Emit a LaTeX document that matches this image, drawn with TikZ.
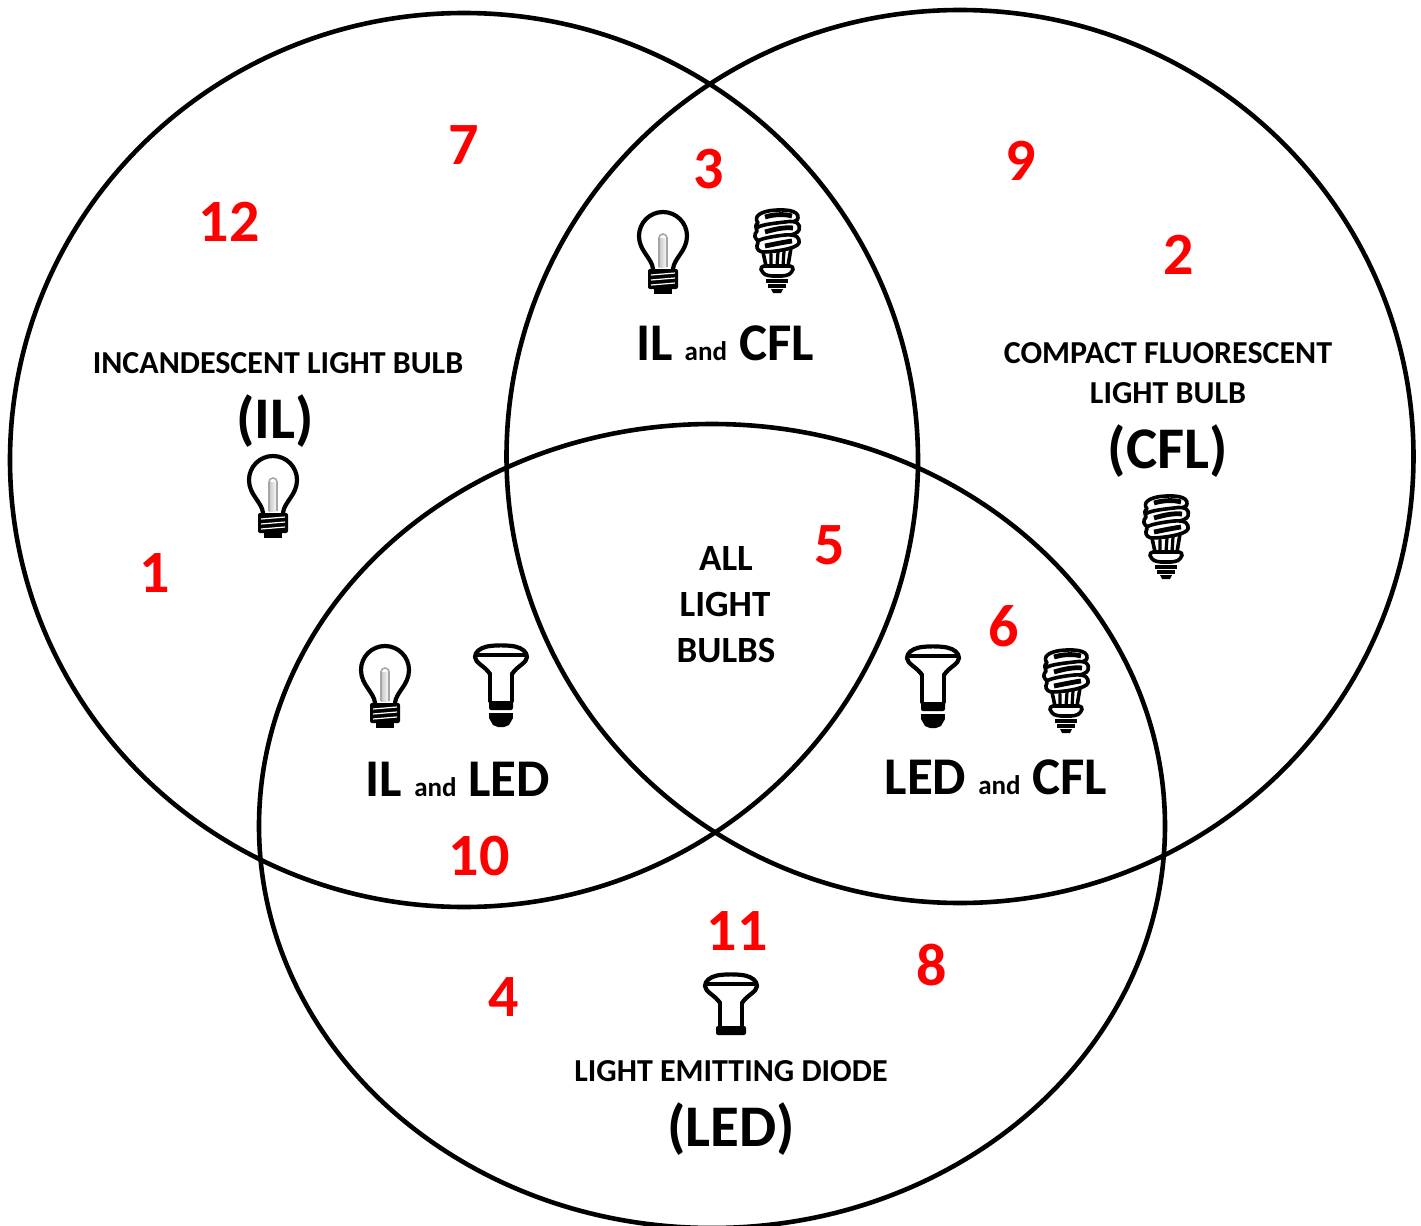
\documentclass[tikz,border=0pt]{standalone}
\usepackage{fontspec}
\setmainfont{Carlito}[BoldFont={Carlito Bold}]
\definecolor{numred}{RGB}{255,0,0}
\tikzset{
  ring/.style={draw=black,line width=2.3pt},
  num/.style={anchor=base,inner sep=0pt,text=numred,font=\bfseries\fontsize{30}{30}\selectfont},
  small/.style={anchor=base,inner sep=0pt,font=\bfseries\fontsize{16}{16}\selectfont},
  mid/.style={anchor=base,inner sep=0pt,font=\bfseries\fontsize{18.5}{18.5}\selectfont},
  big/.style={anchor=base,inner sep=0pt,font=\bfseries\fontsize{29.5}{29.5}\selectfont},
  pair/.style={anchor=base,inner sep=0pt,font=\bfseries\fontsize{26.5}{26.5}\selectfont},
  ink/.style={draw=black,line width=1.5pt,line join=round,line cap=round},
  incbulb/.pic={
    \draw[ink,line width=2.1pt] (-10,33) .. controls (-11,22) and (-24,15) .. (-24,0)
       arc[start angle=180,delta angle=180,radius=24]
       .. controls (24,15) and (11,22) .. (10,33);
    \shade[left color=gray!45,right color=white] (-4,2) rectangle (4,31);
    \draw[draw=gray!70,line width=0.8pt] (-4,31) -- (-4,2) arc[start angle=180,delta angle=180,radius=4] -- (4,31);
    \fill[black,rounded corners=1pt] (-15,33) rectangle (15,53);
    \fill[black] (-9,53) rectangle (9,57.5);
    \foreach \yy in {38,43,48}{\draw[white,line width=0.6pt] (-12,\yy+1) -- (12,\yy-1);}
  },
  cflbulb/.pic={
    \draw[ink,line width=1.8pt,fill=white] (-19,13) .. controls (-24,6) and (-16,2) .. (-6,0.5) .. controls (8,-1) and (22,0) .. (21,8) .. controls (21,12) and (10,14) .. (-19,19) .. controls (-22,18) and (-22,15) .. (-19,13) -- cycle;
    \draw[ink,line width=1.8pt,fill=white] (-20,21) .. controls (-24,16) and (-10,14) .. (8,12) .. controls (20,10) and (24,14) .. (22,20) .. controls (21,26) and (-5,28) .. (-16,31) .. controls (-24,30) and (-23,24) .. (-20,21) -- cycle;
    \draw[ink,line width=1.8pt,fill=white] (-19,33) .. controls (-22,30) and (-10,27) .. (8,25) .. controls (20,24) and (23,28) .. (22,33) .. controls (20,39) and (-5,42) .. (-14,42) .. controls (-21,41) and (-21,36) .. (-19,33) -- cycle;
    \draw[black,line width=2.4pt] (-12,7) .. controls (-2,4) and (8,4) .. (15,6);
    \draw[black,line width=2.4pt] (-12,22) .. controls (-2,19) and (8,17) .. (16,18);
    \draw[black,line width=2.4pt] (-12,36) .. controls (-2,34) and (8,32) .. (15,31);
    \draw[ink,line width=1.8pt] (-14,42) -- (-11,56) (14,38) -- (11,56);
    \draw[ink,line width=1.6pt] (-6,44) -- (-6,56) (1,42) -- (0,56) (7,41) -- (6,56);
    \draw[ink,line width=1.8pt,fill=white,rounded corners=2pt] (-17,56) -- (17,56) -- (15,63) -- (9,66) -- (-9,66) -- (-15,63) -- cycle;
    \draw[black,line width=1.6pt] (-11,71) -- (11,71) (-9,76) -- (9,76);
    \fill[black] (-6,79) -- (6,79) -- (4,83) -- (-4,83) -- cycle;
  },
  ledhead/.pic={
    \fill[black] (-4,0) rectangle (4,3);
    \draw[ink,line width=2.1pt] (11,30) .. controls (16,22) and (26,19) .. (26,13)
       .. controls (26,8) and (21,4) .. (14,2.5) .. controls (6,1) and (-6,1) .. (-14,2.5)
       .. controls (-21,4) and (-26,8) .. (-26,13)
       .. controls (-26,19) and (-16,22) .. (-11,30);
    \draw[black,line width=2.4pt] (-25,11) -- (25,11);
  },
  ledbulb/.pic={
    \path (0,0) pic {ledhead};
    \draw[ink,line width=2.1pt] (-11,30) -- (-11,57) (11,30) -- (11,57);
    \fill[black,rounded corners=1pt] (-12,57) rectangle (12,66);
    \fill[black] (-12,69) rectangle (12,74);
    \fill[black] (-12,74) -- (12,74) -- (8,81) -- (3,83) -- (-3,83) -- (-8,81) -- cycle;
  },
  shortled/.pic={
    \path (0,0) pic {ledhead};
    \draw[ink,line width=2.1pt] (-11,30) -- (-11,53) (11,30) -- (11,53);
    \fill[black,rounded corners=1pt] (-15,53) rectangle (15,62);
  },
}
\begin{document}
\begin{tikzpicture}[x=0.5pt,y=-0.5pt]
\useasboundingbox (0,0) rectangle (1421,1226);
\clip (0,0) rectangle (1421,1226);
\fill[white] (0,0) rectangle (1421,1226);
\draw[ring] (464,460) ellipse [x radius=454,y radius=447];
\draw[ring] (960,456.5) ellipse [x radius=453.5,y radius=446.5];
\draw[ring] (712,826) ellipse [x radius=453,y radius=402];

\node[small] (ilname) at (278,373) {INCANDESCENT LIGHT BULB};
\node[big] (ilshort) at (275,438) {(IL)};
\node[small] (cflnamea) at (1168,363) {COMPACT FLUORESCENT};
\node[small] (cflnameb) at (1168,403) {LIGHT BULB};
\node[big] (cflshort) at (1168,468) {(CFL)};
\node[small] (ledname) at (731,1081) {LIGHT EMITTING DIODE};
\node[big] (ledshort) at (731,1146) {(LED)};
\node[pair] (ilcfl) at (725,360) {IL {\fontsize{13.5}{13.5}\selectfont and} CFL};
\node[pair] (illed) at (458,796) {IL {\fontsize{13.5}{13.5}\selectfont and} LED};
\node[pair] (ledcfl) at (996,794) {LED {\fontsize{13.5}{13.5}\selectfont and} CFL};
\node[mid] (alla) at (726,570) {ALL};
\node[mid] (allb) at (725,616) {LIGHT};
\node[mid] (allc) at (726,662) {BULBS};

\node[num] (n12) at (229,241) {12};
\node[num] (n7) at (464,164) {7};
\node[num] (n3) at (709,188) {3};
\node[num] (n9) at (1021,180) {9};
\node[num] (n2) at (1179,274) {2};
\node[num] (n1) at (155,592) {1};
\node[num] (n5) at (830,564) {5};
\node[num] (n6) at (1004,646) {6};
\node[num] (n10) at (479,875) {10};
\node[num] (n11) at (737,950) {11};
\node[num] (n8) at (932,985) {8};
\node[num] (n4) at (504,1016) {4};

\path (663,236) pic {incbulb};
\path (273,480) pic {incbulb};
\path (385,670) pic {incbulb};
\path (777,210) pic {cflbulb};
\path (1166,496) pic {cflbulb};
\path (1066,650) pic {cflbulb};
\path (501,644) pic {ledbulb};
\path (933,645) pic {ledbulb};
\path (731,973) pic {shortled};
\end{tikzpicture}
\end{document}
